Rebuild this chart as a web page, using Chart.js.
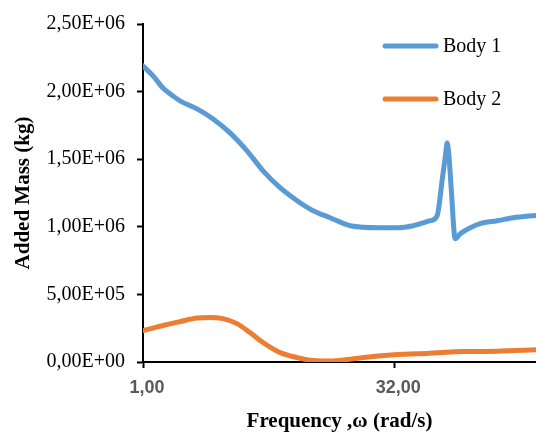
<!DOCTYPE html>
<html>
<head>
<meta charset="utf-8">
<script src="https://cdn.jsdelivr.net/npm/chart.js@4"></script>
<style>
  html, body { margin: 0; padding: 0; background: #fff; }
  #wrap { width: 536px; height: 432px; position: relative; }
</style>
</head>
<body>
<div id="wrap"><canvas id="c" width="536" height="432"></canvas></div>
<script>
// ---- data ----
const seriesNames = ['Body 1', 'Body 2'];
const freq1 = [1, 2.24, 3.47, 4.7, 5.57, 7.67, 9.65, 11.74, 13.84, 15.82, 17.92, 20.02, 22, 24.1, 26.57, 30.27, 32.4, 34.35, 36.45, 37.3, 37.95, 38.35, 38.54, 38.75, 39.05, 39.53, 40.15, 41.4, 42.6, 44.7, 46.7, 49.6];
const body1 = [2190000, 2116000, 2027000, 1968000, 1931000, 1872000, 1798000, 1695000, 1562000, 1414000, 1289000, 1193000, 1119000, 1067000, 1008000, 993000, 993000, 1008000, 1045000, 1082000, 1360000, 1540000, 1620000, 1530000, 1270000, 912000, 949000, 993000, 1023000, 1045000, 1067000, 1085000];
const freq2 = [1, 3.47, 5.57, 7.67, 9.27, 10.88, 12.6, 14.2, 15.8, 17.9, 20, 22, 24.1, 26.2, 28.2, 32.4, 36.4, 38.5, 40.5, 44.7, 49.6];
const body2 = [233000, 270000, 299000, 325000, 330000, 321000, 284000, 218000, 144000, 70000, 33000, 11000, 8000, 18000, 33000, 55000, 65000, 73000, 77000, 80000, 90000];
const xTicks = [1, 32];
const xTickLabels = ['1,00', '32,00'];
const yTicks = [0, 500000, 1000000, 1500000, 2000000, 2500000];
const yTickLabels = ['0,00E+00', '5,00E+05', '1,00E+06', '1,50E+06', '2,00E+06', '2,50E+06'];
const colors = ['#5B9BD5', '#ED7D31'];

const serif = "'Liberation Serif', 'Times New Roman', serif";

const legendPlugin = {
  id: 'customLegend',
  afterDraw(chart) {
    const ctx = chart.ctx;
    const items = [{ y: 46 }, { y: 99 }];
    ctx.save();
    chart.data.datasets.forEach((ds, i) => {
      const y = items[i].y;
      ctx.strokeStyle = ds.borderColor;
      ctx.lineWidth = 5;
      ctx.lineCap = 'round';
      ctx.beginPath();
      ctx.moveTo(385, y);
      ctx.lineTo(436, y);
      ctx.stroke();
      ctx.fillStyle = '#000';
      ctx.font = "20px " + serif;
      ctx.textBaseline = 'middle';
      ctx.textAlign = 'left';
      ctx.fillText(ds.label, 443, y + 1);
    });
    ctx.restore();
  }
};

new Chart(document.getElementById('c'), {
  type: 'line',
  data: {
    datasets: [
      { label: seriesNames[0], data: freq1.map((x, i) => ({ x, y: body1[i] })), borderColor: colors[0], backgroundColor: colors[0] },
      { label: seriesNames[1], data: freq2.map((x, i) => ({ x, y: body2[i] })), borderColor: colors[1], backgroundColor: colors[1] }
    ]
  },
  options: {
    responsive: false,
    animation: false,
    devicePixelRatio: 1,
    layout: { padding: { top: 23, right: 0, left: 0, bottom: 0 } },
    elements: {
      point: { radius: 0 },
      line: { borderWidth: 5, cubicInterpolationMode: 'monotone', borderCapStyle: 'round', borderJoinStyle: 'round' }
    },
    plugins: { legend: { display: false }, tooltip: { enabled: false } },
    scales: {
      x: {
        type: 'linear',
        min: 1,
        max: 49.5,
        afterBuildTicks(scale) { scale.ticks = xTicks.map(v => ({ value: v })); },
        afterFit(scale) { scale.height = 432 - 23 - 339; },
        ticks: {
          callback(v) { const i = xTicks.indexOf(v); return i >= 0 ? xTickLabels[i] : ''; },
          color: '#595959',
          font: { family: "'Liberation Sans', Arial, sans-serif", size: 18, weight: 'bold' },
          padding: 9,
          labelOffset: 4,
          maxRotation: 0,
          autoSkip: false
        },
        grid: { drawOnChartArea: false, drawTicks: true, tickLength: 6, tickColor: '#000', tickWidth: 2 },
        border: { display: true, color: '#000', width: 2 },
        title: {
          display: true,
          text: 'Frequency ,ω (rad/s)',
          color: '#000',
          font: { family: serif, size: 21, weight: 'bold', lineHeight: 1.0 },
          padding: { top: 0, bottom: 0 }
        }
      },
      y: {
        type: 'linear',
        min: 0,
        max: 2500000,
        afterBuildTicks(scale) { scale.ticks = yTicks.map(v => ({ value: v })); },
        afterFit(scale) { scale.width = 143; },
        ticks: {
          callback(v) { const i = yTicks.indexOf(v); return i >= 0 ? yTickLabels[i] : ''; },
          color: '#000',
          font: { family: serif, size: 20 },
          padding: 12
        },
        grid: { drawOnChartArea: false, drawTicks: true, tickLength: 6, tickColor: '#000', tickWidth: 2 },
        border: { display: true, color: '#000', width: 2 },
        title: {
          display: true,
          text: 'Added Mass (kg)',
          color: '#000',
          font: { family: serif, size: 21, weight: 'bold', lineHeight: 1.0 },
          padding: { top: 13, bottom: 0 }
        }
      }
    }
  },
  plugins: [legendPlugin]
});
</script>
</body>
</html>
